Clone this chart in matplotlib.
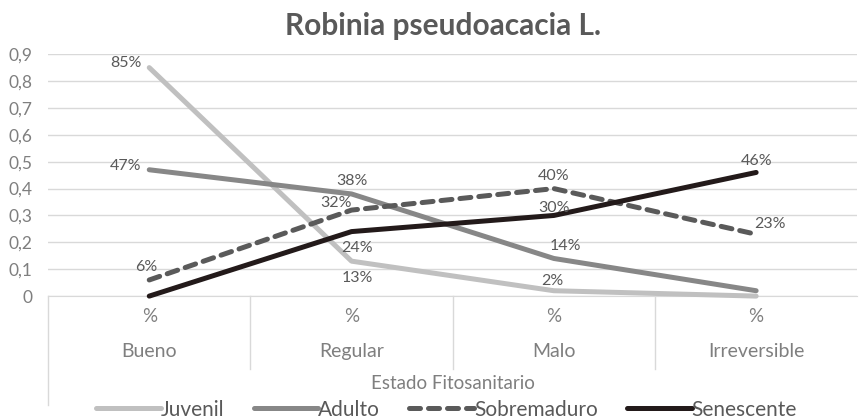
import matplotlib.pyplot as plt
import numpy as np

plt.rcParams["font.family"] = ["Lato", "DejaVu Sans"]

categories = ["Bueno", "Regular", "Malo", "Irreversible"]
sublabels = ["%", "%", "%", "%"]
series_names = ["Juvenil", "Adulto", "Sobremaduro", "Senescente"]
juvenil = [0.85, 0.13, 0.02, 0.0]
adulto = [0.47, 0.38, 0.14, 0.02]
sobremaduro = [0.06, 0.32, 0.40, 0.23]
senescente = [0.0, 0.24, 0.30, 0.46]
# which points carry a data label
show_juvenil = [True, True, True, False]
show_adulto = [True, True, True, False]
show_sobremaduro = [True, True, True, True]
show_senescente = [False, True, True, True]
yticks = [0, 0.1, 0.2, 0.3, 0.4, 0.5, 0.6, 0.7, 0.8, 0.9]

TXT = "#595959"
TICK = "#7f7f7f"
GRID = "#d9d9d9"

fig = plt.figure(figsize=(8.59, 4.2), dpi=100)
ax = fig.add_axes([0.056, 0.295, 0.942, 0.576])

x = np.arange(len(categories))
styles = [
    (juvenil, show_juvenil, "#c0c0c0", "-", [(-17, -2), (4, -17), (-1, 2)]),
    (adulto, show_adulto, "#878787", "-", [(-17, -2), (0, 4), (8, 4)]),
    (sobremaduro, show_sobremaduro, "#5a5a5a", "--", [(-2, 4), (-11, 0), (0, 4), (10, 2)]),
    (senescente, show_senescente, "#231a1a", "-", [(4, -17), (0, 0), (0, 3)]),
]

for name, (vals, show, col, ls, offs) in zip(series_names, styles):
    line, = ax.plot(x, vals, color=col, lw=3.6, ls=ls, label=name,
                    solid_capstyle="round", solid_joinstyle="round",
                    dash_capstyle="round", clip_on=False, zorder=3)
    if ls == "--":
        line.set_dashes([2.2, 1.6])
    k = 0
    for xi, v, s in zip(x, vals, show):
        if not s:
            continue
        dx, dy = offs[k]
        k += 1
        ax.annotate(f"{round(v * 100):.0f}%", (xi, v), xytext=(dx, dy),
                    textcoords="offset points", ha="center", va="bottom",
                    fontsize=11.5, color=TXT, zorder=4)

ax.set_xlim(-0.5, len(categories) - 0.5)
ax.set_ylim(0, 0.9)
ax.set_yticks(yticks)
ax.set_yticklabels([("%g" % t).replace(".", ",") for t in yticks])
ax.tick_params(axis="y", length=0, labelsize=12.5, labelcolor=TICK, pad=11)
ax.set_xticks([])
ax.grid(axis="y", color=GRID, lw=1)
ax.set_axisbelow(True)
for sp in ["top", "right", "left"]:
    ax.spines[sp].set_visible(False)
ax.spines["bottom"].set_color(GRID)

# multi-level category axis
tr = ax.get_xaxis_transform()
for xi, cat, sub in zip(x, categories, sublabels):
    ax.text(xi, -0.085, sub, transform=tr, ha="center", va="center",
            fontsize=13.5, color=TICK)
    ax.text(xi, -0.23, cat, transform=tr, ha="center", va="center",
            fontsize=14, color=TICK)
for b in np.arange(len(categories)) + 0.5:
    if b < len(categories) - 0.5:
        ax.plot([b, b], [0, -0.3], transform=tr, color=GRID, lw=1, clip_on=False)
ax.plot([-0.5, -0.5], [0, -0.45], transform=tr, color=GRID, lw=1, clip_on=False)
ax.text(0.5, -0.36, "Estado Fitosanitario", transform=ax.transAxes,
        ha="center", va="center", fontsize=13.5, color=TICK)

ax.text(0.488, 1.06, "Robinia pseudoacacia L.", transform=ax.transAxes,
        ha="center", va="bottom", fontsize=21.5, fontweight="bold", color=TXT)

leg = fig.legend(loc="center", bbox_to_anchor=(0.52, 0.025), ncol=4,
                 frameon=False, handlelength=3.1, columnspacing=1.4,
                 handletextpad=0.0, fontsize=15, borderpad=0)
for t in leg.get_texts():
    t.set_color(TXT)

fig.savefig("out.png", dpi=100)
